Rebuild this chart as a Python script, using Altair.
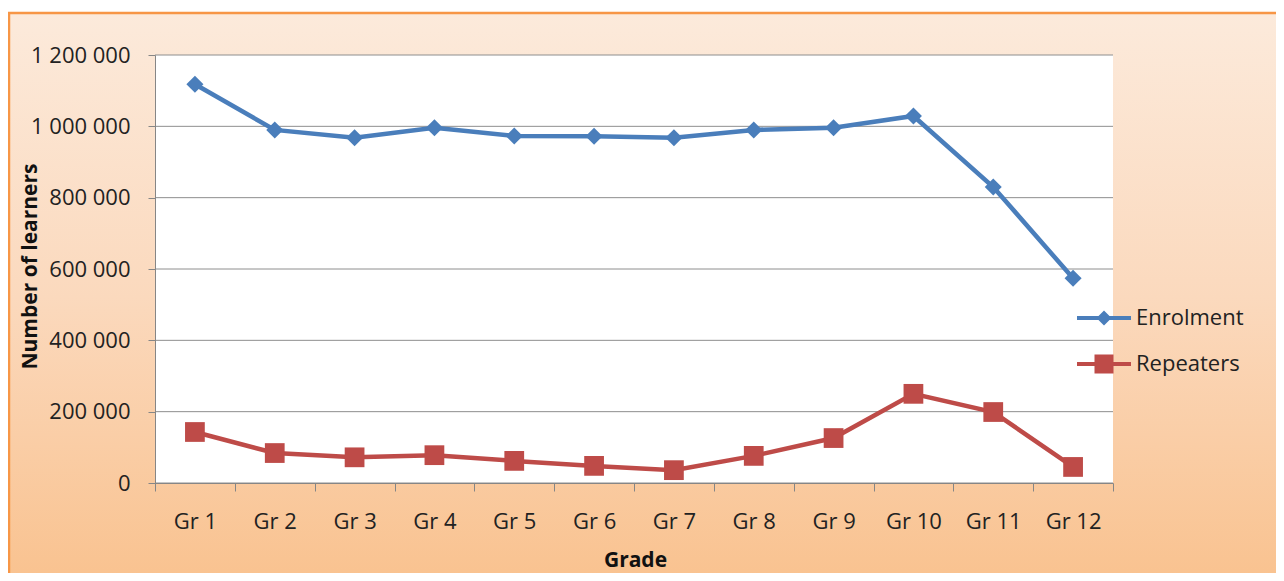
import altair as alt
import pandas as pd

grades = ["Gr 1", "Gr 2", "Gr 3", "Gr 4", "Gr 5", "Gr 6", "Gr 7", "Gr 8", "Gr 9", "Gr 10", "Gr 11", "Gr 12"]
enrolment = [1118000, 990000, 968000, 996000, 973000, 972000, 968000, 990000, 996000, 1029000, 830000, 574000]
repeaters = [143000, 84000, 72000, 78000, 62000, 48000, 36000, 76000, 126000, 250000, 199000, 45000]
series_names = ["Enrolment", "Repeaters"]
y_ticks = [0, 200000, 400000, 600000, 800000, 1000000, 1200000]
line_colors = ["#4A7EBB", "#BE4B48"]

rows = []
for g, e, r in zip(grades, enrolment, repeaters):
    rows.append({"grade": g, "series": "Enrolment", "value": e})
    rows.append({"grade": g, "series": "Repeaters", "value": r})
df = pd.DataFrame(rows)
grid_df = pd.DataFrame({"value": y_ticks})
one = pd.DataFrame({"a": [0]})

W, H = 958, 428
PL, PT, PR, PB = 147, 47, 163, 90
FONT = "Open Sans"

bg = alt.Chart(one).mark_rect(
    fill={"gradient": "linear", "x1": 0, "y1": 0, "x2": 0, "y2": 1,
          "stops": [{"offset": 0, "color": "#FCEADB"},
                    {"offset": 0.5, "color": "#FBD9BD"},
                    {"offset": 1, "color": "#F9C28F"}]},
    stroke="#F79646", strokeWidth=2.5
).encode(x=alt.value(-PL + 1), x2=alt.value(W + PR + 10), y=alt.value(-PT + 5), y2=alt.value(H + PB + 10))

plot_bg = alt.Chart(one).mark_rect(fill="white").encode(
    x=alt.value(0), x2=alt.value(W), y=alt.value(0), y2=alt.value(H))

yscale = alt.Scale(domain=[0, 1200000])
yaxis = alt.Axis(title="Number of learners", values=y_ticks,
                 labelExpr="replace(format(datum.value, ','), /,/g, ' ')",
                 labelFont=FONT, labelFontSize=22, labelColor="#222222", labelPadding=18,
                 tickSize=7, tickColor="#868686", domainColor="#868686", grid=False,
                 titleFont=FONT, titleFontSize=21, titleFontWeight="bold", titleColor="#111111",
                 titleX=-125, titleY=H / 2 - 3, titleBaseline="middle", titleAngle=-90,
                 zindex=1)

xenc = alt.X("grade:N", sort=grades,
             scale=alt.Scale(type="band", paddingInner=0, paddingOuter=0),
             axis=alt.Axis(title="Grade", labelAngle=0, tickBand="extent", labelFont=FONT,
                           labelFontSize=22, labelColor="#222222", labelPadding=20, tickSize=8,
                           tickColor="#868686", domainColor="#868686", grid=False,
                           titleFont=FONT, titleFontSize=21, titleFontWeight="bold",
                           titleColor="#111111", titleX=W / 2 + 1, titleY=77, titleBaseline="middle",
                           zindex=1))
yenc = alt.Y("value:Q", scale=yscale, axis=yaxis)

grid = alt.Chart(grid_df).mark_rule(color="#8E8E8E", strokeWidth=1).encode(y=yenc)

color_scale = alt.Scale(domain=series_names, range=line_colors)

lines = alt.Chart(df).mark_line(strokeWidth=4.5).encode(
    x=xenc, y=yenc, color=alt.Color("series:N", scale=color_scale, legend=None),
    detail="series:N")

points = alt.Chart(df).mark_point(filled=True, opacity=1).encode(
    x=xenc, y=yenc,
    color=alt.Color("series:N", scale=color_scale, legend=None),
    shape=alt.Shape("series:N", scale=alt.Scale(domain=series_names, range=["diamond", "square"]), legend=None),
    size=alt.Size("series:N", scale=alt.Scale(domain=series_names, range=[290, 390]), legend=None))

leg_paths = [
    "M-2.7,-0.2H2.7V0.2H-2.7Z M0,-0.75L0.75,0L0,0.75L-0.75,0Z",
    "M-2.7,-0.2H2.7V0.2H-2.7Z M-0.95,-0.95H0.95V0.95H-0.95Z",
]
legend = alt.Legend(title=None, orient="none", legendX=938, legendY=252, labelFont=FONT,
                    labelFontSize=22, labelColor="#222222", symbolSize=400, symbolStrokeWidth=0,
                    labelOffset=21, rowPadding=24, symbolOpacity=1)
leg_layer = alt.Chart(df).transform_filter("false").mark_point(filled=True, size=400, opacity=1).encode(
    x=xenc, y=yenc,
    color=alt.Color("series:N", scale=alt.Scale(domain=series_names, range=line_colors), legend=legend),
    shape=alt.Shape("series:N", scale=alt.Scale(domain=series_names, range=leg_paths), legend=legend))

chart = alt.layer(bg, plot_bg, grid, lines, points, leg_layer).resolve_scale(
    color="independent", shape="independent", size="independent"
).properties(
    width=W, height=H,
    autosize=alt.AutoSizeParams(type="none"),
    padding={"left": PL, "top": PT, "right": PR, "bottom": PB},
    background="white",
).configure_view(stroke=None)

chart.save("out.html", embed_options={"renderer": "svg", "actions": False})
